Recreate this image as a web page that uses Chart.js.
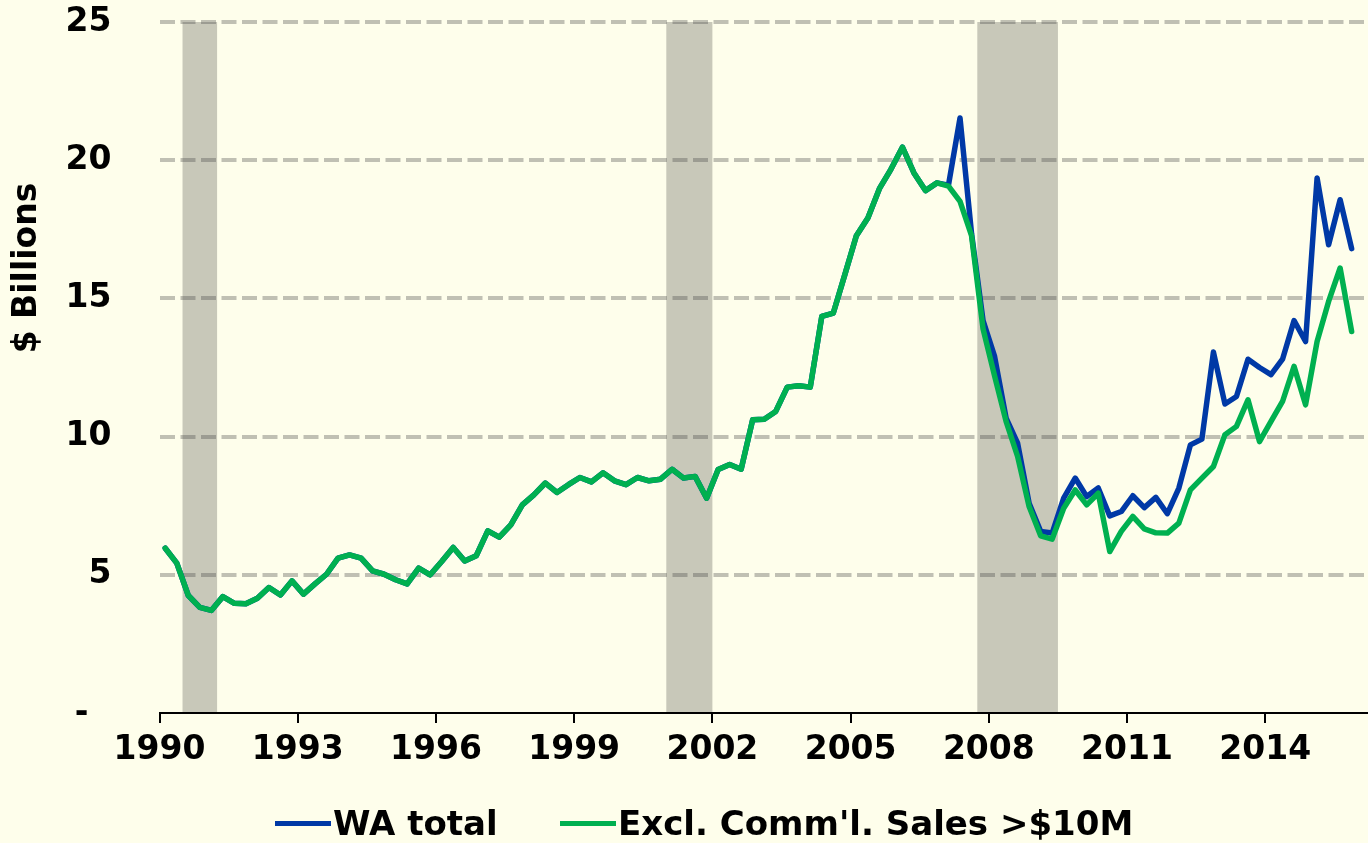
<!DOCTYPE html>
<html>
<head>
<meta charset="utf-8">
<script src="https://cdn.jsdelivr.net/npm/chart.js@4.4.1/dist/chart.umd.min.js"></script>
<style>
body{margin:0;background:#fefeeb;}
#wrap{position:relative;width:1368px;height:843px;}
#chart{position:absolute;left:0;top:0;}
.item{position:absolute;top:803px;display:flex;align-items:center;font:bold 34px "DejaVu Sans";line-height:40px;color:#000;white-space:nowrap;}
.swatch{width:56px;height:5px;margin-right:2px;}
</style>
</head>
<body>
<div id="wrap">
  <canvas id="chart" width="1368" height="843"></canvas>
</div>
<script>
// quarterly, 1990 Q1 .. 2015 Q4, $ billions
const startYear = 1990;
const seriesNames = ['WA total', "Excl. Comm'l. Sales >$10M"];

const waTotal = [
  5.96,5.42,4.25,3.82,3.71,4.21,3.97,3.95,4.15,4.54,
  4.27,4.78,4.30,4.67,5.02,5.60,5.72,5.60,5.14,5.02,
  4.82,4.67,5.24,5.00,5.48,5.99,5.50,5.69,6.59,6.36,
  6.81,7.53,7.89,8.32,7.98,8.26,8.52,8.36,8.69,8.40,
  8.26,8.52,8.40,8.46,8.82,8.50,8.56,7.77,8.81,8.99,
  8.82,10.61,10.63,10.91,11.79,11.84,11.79,14.35,14.47,15.86,
  17.27,17.91,18.97,19.67,20.47,19.54,18.90,19.18,19.10,21.53,
  17.35,14.20,12.90,10.67,9.76,7.59,6.57,6.51,7.77,8.50,
  7.83,8.14,7.13,7.29,7.86,7.43,7.80,7.21,8.14,9.70,
  9.91,13.06,11.18,11.45,12.80,12.50,12.24,12.80,14.20,13.44,
  19.36,16.94,18.57,16.80
];

const exclBig = [
  5.96,5.42,4.25,3.82,3.71,4.21,3.97,3.95,4.15,4.54,
  4.27,4.78,4.30,4.67,5.02,5.60,5.72,5.60,5.14,5.02,
  4.82,4.67,5.24,5.00,5.48,5.99,5.50,5.69,6.59,6.36,
  6.81,7.53,7.89,8.32,7.98,8.26,8.52,8.36,8.69,8.40,
  8.26,8.52,8.40,8.46,8.82,8.50,8.56,7.77,8.81,8.99,
  8.82,10.61,10.63,10.91,11.79,11.84,11.79,14.35,14.47,15.86,
  17.27,17.91,18.97,19.67,20.47,19.54,18.90,19.18,19.06,18.51,
  17.27,13.90,12.20,10.55,9.28,7.47,6.41,6.29,7.41,8.07,
  7.53,7.95,5.84,6.57,7.11,6.66,6.52,6.51,6.87,8.07,
  8.50,8.92,10.07,10.37,11.33,9.82,10.55,11.27,12.54,11.15,
  13.44,14.89,16.10,13.80
];

// recession periods [start, end] in years
const recessions = [[1990.5, 1991.25], [2001.0, 2002.0], [2007.75, 2009.5]];

const xTickYears = [1990, 1993, 1996, 1999, 2002, 2005, 2008, 2011, 2014];
const yTicks = [0, 5, 10, 15, 20, 25];
const yTitle = '$ Billions';

const bg = '#fefeeb';
const bandColor = '#c8c8b9';
const gridColor = 'rgba(68,68,68,0.33)';
const colors = ['#0039a6', '#00b050'];

// x position of each quarter (mid-quarter)
const quarterX = waTotal.map((_, i) => startYear + i / 4 + 0.125);

Chart.defaults.font.family = '"DejaVu Sans", Verdana, sans-serif';
Chart.defaults.font.weight = 'bold';
Chart.defaults.font.size = 33;
Chart.defaults.color = '#000';

const backdrop = {
  id: 'backdrop',
  beforeDraw(chart){
    const {ctx, chartArea: a, scales: {x}} = chart;
    ctx.save();
    ctx.fillStyle = bg;
    ctx.fillRect(0, 0, chart.width, chart.height);
    ctx.fillStyle = bandColor;
    recessions.forEach(([s, e]) => {
      const x0 = x.getPixelForValue(s);
      const x1 = x.getPixelForValue(e);
      ctx.fillRect(x0, a.top, x1 - x0, a.bottom - a.top);
    });
    ctx.restore();
  },
  afterDraw(chart){
    const ctx = chart.ctx;
    ctx.save();
    ctx.translate(27, 268);
    ctx.rotate(-Math.PI / 2);
    ctx.font = 'bold 33px "DejaVu Sans"';
    ctx.fillStyle = '#000';
    ctx.textAlign = 'center';
    ctx.textBaseline = 'middle';
    ctx.fillText(yTitle, 0, 0);
    ctx.restore();
  }
};

new Chart(document.getElementById('chart'), {
  type: 'line',
  data: {
    datasets: [
      {
        label: seriesNames[0],
        data: waTotal.map((v, i) => ({x: quarterX[i], y: v})),
        borderColor: colors[0],
        borderWidth: 5.5,
        order: 2
      },
      {
        label: seriesNames[1],
        data: exclBig.map((v, i) => ({x: quarterX[i], y: v})),
        borderColor: colors[1],
        borderWidth: 5.5,
        order: 1
      }
    ]
  },
  options: {
    responsive: false,
    animation: false,
    layout: {padding: {top: 22, right: 0, left: 0, bottom: 0}},
    elements: {
      point: {radius: 0},
      line: {tension: 0, borderJoinStyle: 'round', borderCapStyle: 'round'}
    },
    plugins: {legend: {display: false}, tooltip: {enabled: false}},
    scales: {
      x: {
        type: 'linear',
        min: 1990,
        max: 2016.23,
        afterBuildTicks: s => { s.ticks = xTickYears.map(v => ({value: v})); },
        afterFit: s => { s.height = 130; },
        ticks: {padding: 8, maxRotation: 0, autoSkip: false, callback: v => String(v)},
        grid: {drawOnChartArea: false, drawTicks: true, tickLength: 10, color: '#000', lineWidth: 2},
        border: {display: true, color: '#000', width: 2}
      },
      y: {
        min: 0,
        max: 25,
        afterBuildTicks: s => { s.ticks = yTicks.map(v => ({value: v})); },
        afterFit: s => { s.width = 159.5; },
        ticks: {padding: 0, callback: v => v === 0 ? '-  ' : String(v)},
        grid: {
          drawTicks: true,
          tickLength: 48,
          tickColor: 'rgba(0,0,0,0)',
          lineWidth: 4,
          color: c => (c.tick && c.tick.value === 0) ? 'rgba(0,0,0,0)' : gridColor
        },
        border: {display: false, dash: [15, 5.5]}
      }
    }
  },
  plugins: [backdrop]
});

// legend
const wrap = document.getElementById('wrap');
const legendLeft = [275, 560];
seriesNames.forEach((name, i) => {
  const item = document.createElement('div');
  item.className = 'item';
  item.style.left = legendLeft[i] + 'px';
  const sw = document.createElement('span');
  sw.className = 'swatch';
  sw.style.background = colors[i];
  const txt = document.createElement('span');
  txt.textContent = name;
  item.appendChild(sw);
  item.appendChild(txt);
  wrap.appendChild(item);
});
</script>
</body>
</html>
